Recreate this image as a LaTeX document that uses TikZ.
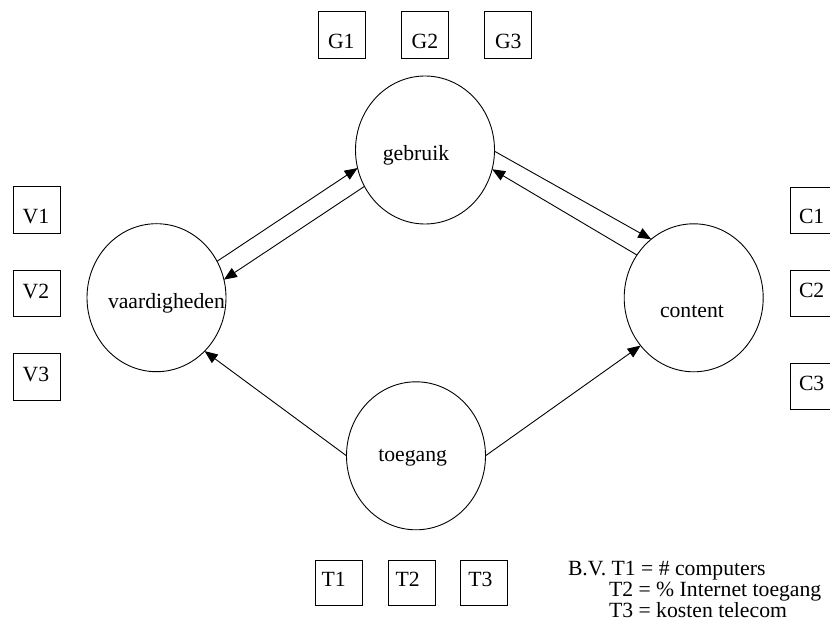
\documentclass[tikz,border=0pt]{standalone}
\usepackage{fontspec}
\setmainfont{Liberation Serif}
\usetikzlibrary{shapes.geometric,arrows.meta}
\begin{document}
\begin{tikzpicture}[x=1pt,y=-1pt,
  every node/.style={font=\fontsize{21.7}{24}\selectfont},
  concept/.style={draw, ellipse, line width=0.9pt, minimum width=139pt, minimum height=148pt, inner sep=0pt, outer sep=0pt},
  indic/.style={draw, rectangle, line width=0.9pt, minimum width=47pt, minimum height=46.5pt, inner sep=0pt, outer sep=0pt},
  lbl/.style={inner sep=0pt, outer sep=0pt, anchor=base west},
  clbl/.style={inner sep=0pt, outer sep=0pt, anchor=base},
  link/.style={line width=0.9pt, -{Triangle[length=13pt,width=10.5pt]}}]
\useasboundingbox (0,0) rectangle (830,631);
\clip (0,0) rectangle (830,631);
\fill[white] (0,0) rectangle (830,631);

% concepts
\node[concept] (gebr) at (425,150) {};
\node[concept] (vaard) at (156.5,297.7) {};
\node[concept] (cont) at (693.7,297.8) {};
\node[concept] (toeg) at (416,455.8) {};
\node[clbl] (tgebr) at (416,160.7) {gebruik};
\node[lbl] (tvaard) at (108,308) {vaardigheden};
\node[lbl] (tcont) at (660,317.3) {content};
\node[lbl] (ttoeg) at (378.3,461.7) {toegang};

% indicator boxes
\node[indic] (G1) at (341.7,35) {};
\node[indic] (G2) at (425,35) {};
\node[indic] (G3) at (508.3,35) {};
\node[lbl] (tG1) at (328,48.3) {G1};
\node[lbl] (tG2) at (411.7,48.3) {G2};
\node[lbl] (tG3) at (495,48.3) {G3};

\node[indic] (V1) at (36.7,210) {};
\node[indic] (V2) at (36.7,293.3) {};
\node[indic] (V3) at (36.7,376.7) {};
\node[lbl] (tV1) at (22.7,224) {V1};
\node[lbl] (tV2) at (22.7,298.3) {V2};
\node[lbl] (tV3) at (22.7,381.7) {V3};

\node[indic] (C1) at (813.5,210.3) {};
\node[indic] (C2) at (813.5,293.3) {};
\node[indic] (C3) at (813.5,386.3) {};
\node[lbl] (tC1) at (799,223.3) {C1};
\node[lbl] (tC2) at (799,297.7) {C2};
\node[lbl] (tC3) at (799,390.5) {C3};

\node[indic, minimum height=45pt] (T1) at (339.3,582.5) {};
\node[indic, minimum height=45pt] (T2) at (412.3,582.5) {};
\node[indic, minimum height=45pt] (T3) at (484.3,582.5) {};
\node[lbl] (tT1) at (321.7,586.7) {T1};
\node[lbl] (tT2) at (395.7,586.7) {T2};
\node[lbl] (tT3) at (468.3,586.7) {T3};

% legend
\node[lbl] (leg1) at (568,575.7) {B.V. T1 = \# computers};
\node[lbl] (leg2) at (609,596) {T2 = \% Internet toegang};
\node[lbl] (leg3) at (609,617) {T3 = kosten telecom};

% connectors
\draw[link] (vaard.31.6) -- (gebr.195.9);
\draw[link] (gebr.211.8) -- (vaard.15.4);
\draw[link] (gebr.359) -- (cont.126.9);
\draw[link] (cont.143) -- (gebr.344);
\draw[link] (toeg.180) -- (vaard.312);
\draw[link] (toeg.0) -- (cont.222);
\end{tikzpicture}
\end{document}
